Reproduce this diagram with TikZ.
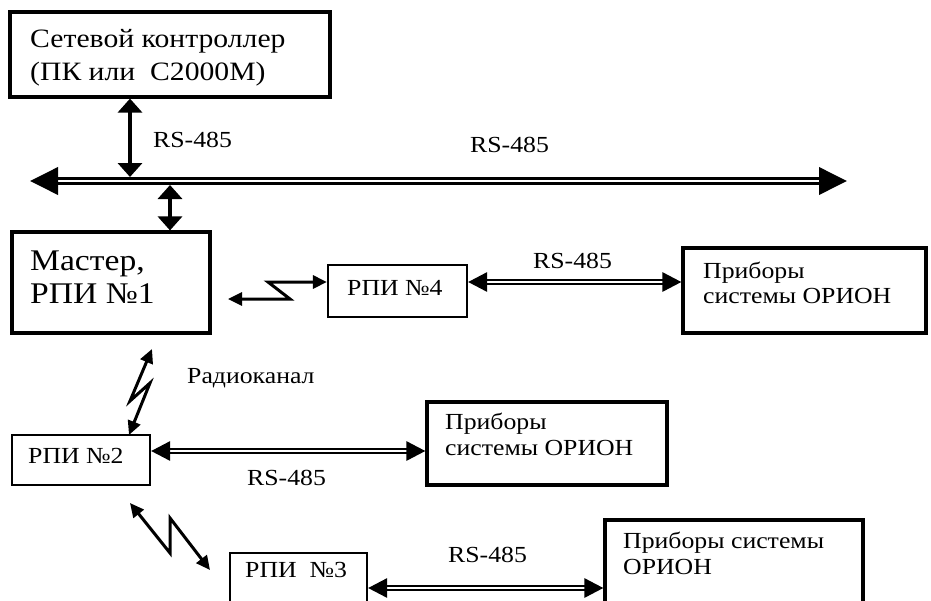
\documentclass[tikz,border=0pt]{standalone}
\usepackage{fontspec}
\setmainfont{Liberation Serif}[FakeStretch=1.12]
\usetikzlibrary{arrows.meta}
\tikzset{
  box/.style={draw, line width=3.2pt, rectangle, inner sep=0pt},
  sbox/.style={draw, line width=2.2pt, rectangle, inner sep=0pt},
  txt/.style={anchor=base west, inner sep=0pt, font=\fontsize{23}{26}\selectfont},
  vert/.style={line width=3.6pt, {Triangle[length=14pt,width=24pt]}-{Triangle[length=14pt,width=24pt]}},
  radio/.style={line width=3pt, line join=miter, {Triangle[length=14pt,width=13pt]}-{Triangle[length=14pt,width=13pt]}},
  dbl/.style={double=white, line width=2.8pt, double distance=1.2pt, {Triangle[length=19pt,width=19pt]}-{Triangle[length=19pt,width=19pt]}},
  busline/.style={double=white, line width=3.8pt, double distance=1.2pt, {Triangle[length=28pt,width=27pt]}-{Triangle[length=28pt,width=27pt]}}
}
\begin{document}
\begin{tikzpicture}[x=1pt,y=-1pt]
\useasboundingbox (0,0) rectangle (931,600);
% boxes
\node[box, minimum width=320, minimum height=85] (ctrl) at (170,54.5) {};
\node[box, minimum width=198, minimum height=101] (master) at (111,282.5) {};
\node[sbox, minimum width=139, minimum height=52] (rpi4) at (397.5,291) {};
\node[box, minimum width=243, minimum height=85] (dev1) at (804.5,290.5) {};
\node[sbox, minimum width=138, minimum height=50] (rpi2) at (81,460) {};
\node[box, minimum width=240, minimum height=83] (dev2) at (547,443.5) {};
\node[sbox, minimum width=137, minimum height=62] (rpi3) at (298.5,584) {};
\node[box, minimum width=258, minimum height=95] (dev3) at (734,567.5) {};
% texts
\node[txt, font=\fontsize{26.5}{33}\selectfont] (ctrlA) at (30,47) {Сетевой контроллер};
\node[txt, font=\fontsize{26.5}{33}\selectfont] (ctrlB) at (30,80) {(ПК или~~С2000М)};
\node[txt, font=\fontsize{30}{33}\selectfont] (masterA) at (30,270) {Мастер,};
\node[txt, font=\fontsize{30}{33}\selectfont] (masterB) at (30,303) {РПИ №1};
\node[txt] (rpi4t) at (347,295) {РПИ №4};
\node[txt] (rpi2t) at (28,463) {РПИ №2};
\node[txt] (rpi3t) at (245,577) {РПИ~~№3};
\node[txt] (dev1a) at (703,278) {Приборы};
\node[txt] (dev1b) at (703,303) {системы ОРИОН};
\node[txt] (dev2a) at (445,429) {Приборы};
\node[txt] (dev2b) at (445,455) {системы ОРИОН};
\node[txt] (dev3a) at (623,548) {Приборы системы};
\node[txt] (dev3b) at (623,574) {ОРИОН};
\node[txt] (l1) at (153,147) {RS-485};
\node[txt] (l2) at (470,152) {RS-485};
\node[txt] (l3) at (533,268) {RS-485};
\node[txt] (l4) at (187,383) {Радиоканал};
\node[txt] (l5) at (247,485) {RS-485};
\node[txt] (l6) at (448,562) {RS-485};
% bus
\coordinate (busL) at (30,181);
\coordinate (busR) at (847,181);
\draw[busline] (busL) -- (busR);
\coordinate (busT) at (130,177);
\coordinate (busB) at (170,185);
\draw[vert] (ctrl.south -| busT) -- (busT);
\draw[vert] (busB) -- (master.north -| busB);
% radio links
\coordinate (z1a) at (228,299);
\coordinate (z1b) at (290,299);
\coordinate (z1c) at (268,282);
\draw[radio] (z1a) -- (z1b) -- (z1c) -- (rpi4.west |- z1c);
\coordinate (z2a) at (152,349);
\coordinate (z2b) at (130,401);
\coordinate (z2c) at (150,383);
\coordinate (z2d) at (129,435);
\draw[radio] (z2a) -- (z2b) -- (z2c) -- (z2d);
\coordinate (z3a) at (130,503);
\coordinate (z3b) at (170,553);
\coordinate (z3c) at (170,518);
\coordinate (z3d) at (210,570);
\draw[radio] (z3a) -- (z3b) -- (z3c) -- (z3d);
% RS-485 links
\coordinate (y1) at (0,282);
\draw[dbl] (rpi4.east |- y1) -- (dev1.west |- y1);
\coordinate (y2) at (0,451);
\draw[dbl] (rpi2.east |- y2) -- (dev2.west |- y2);
\coordinate (y3) at (0,588);
\draw[dbl] (rpi3.east |- y3) -- (dev3.west |- y3);
\end{tikzpicture}
\end{document}
